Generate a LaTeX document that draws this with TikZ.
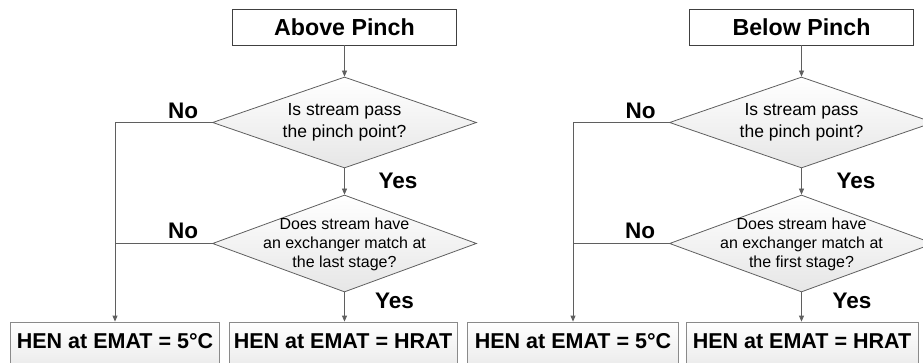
\documentclass[tikz,border=0pt]{standalone}
\usepackage{fontspec}
\setmainfont{Liberation Sans}
\usetikzlibrary{shapes.geometric,arrows.meta}
\definecolor{linegray}{HTML}{5F5F5F}
\definecolor{boxgray}{HTML}{404040}
\definecolor{botgray}{HTML}{8A8A8A}
\definecolor{diafill}{HTML}{E6E6E6}
\definecolor{botfill}{HTML}{E4E4E4}
\begin{document}
\begin{tikzpicture}[x=1pt,y=-1pt,
  conn/.style={draw=linegray, line width=0.8pt},
  arr/.style={conn, -{Triangle[length=6pt,width=5pt]}},
  topbox/.style={draw=boxgray, line width=0.9pt, fill=white, minimum width=224pt, minimum height=36pt, inner sep=0pt},
  titletext/.style={font=\fontsize{23.2}{27}\selectfont\bfseries, inner sep=0pt},
  dia/.style={diamond, draw=linegray, line width=0.8pt, top color=white, bottom color=diafill, inner sep=0pt, minimum width=264pt},
  diatextA/.style={font=\fontsize{17.5}{22}\selectfont, align=center, inner sep=0pt},
  diatextB/.style={font=\fontsize{16}{19}\selectfont, align=center, inner sep=0pt},
  botbox/.style={draw=botgray, line width=0.8pt, top color=white, bottom color=botfill, minimum height=60pt, inner sep=0pt},
  bottext/.style={font=\fontsize{21.5}{26}\selectfont\bfseries, inner sep=0pt},
  lbl/.style={font=\fontsize{22.5}{26}\selectfont\bfseries, inner sep=0pt}
]
\useasboundingbox (0,0) rectangle (923,363);
\clip (0,0) rectangle (923,363);

% ---------- left half ----------
\node[topbox] (t1) at (344.5,27) {};
\node[titletext] (t1t) at (t1.center) {Above Pinch};
\node[dia, minimum height=91pt] (d1) at (344.5,122.5) {};
\node[diatextA] (d1t) at (344.5,122) {Is stream pass\\the pinch point?};
\node[dia, minimum height=97pt] (d2) at (344.5,243.5) {};
\node[diatextB] (d2t) at (344.5,244) {Does stream have\\an exchanger match at\\the last stage?};
\node[botbox, minimum width=209pt] (b1) at (115,352) {};
\node[bottext] (b1t) at (115,341) {HEN at EMAT = 5\textdegree C};
\node[botbox, minimum width=228pt] (b2) at (343,352) {};
\node[bottext] (b2t) at (343,341) {HEN at EMAT = HRAT};

\draw[arr] (t1.south) -- (d1.north);
\draw[arr] (d1.south) -- (d2.north);
\draw[arr] (d2.south) -- (d2.south |- b2.north);
\draw[arr] (d1.west) -| (b1.north);
\draw[conn] (d2.west) -- (d2.west -| b1.north);

\node[lbl] (n1) at (183,111) {No};
\node[lbl] (n2) at (183,231) {No};
\node[lbl] (y1) at (398,181) {Yes};
\node[lbl] (y2) at (394.5,301) {Yes};

% ---------- right half ----------
\node[topbox] (t2) at (801.5,27) {};
\node[titletext] (t2t) at (t2.center) {Below Pinch};
\node[dia, minimum height=91pt] (d3) at (801.5,122.5) {};
\node[diatextA] (d3t) at (801.5,122) {Is stream pass\\the pinch point?};
\node[dia, minimum height=97pt] (d4) at (801.5,243.5) {};
\node[diatextB] (d4t) at (801.5,244) {Does stream have\\an exchanger match at\\the first stage?};
\node[botbox, minimum width=211pt] (b3) at (573,352) {};
\node[bottext] (b3t) at (573,341) {HEN at EMAT = 5\textdegree C};
\node[botbox, minimum width=232pt] (b4) at (802,352) {};
\node[bottext] (b4t) at (802,341) {HEN at EMAT = HRAT};

\draw[arr] (t2.south) -- (d3.north);
\draw[arr] (d3.south) -- (d4.north);
\draw[arr] (d4.south) -- (d4.south |- b4.north);
\draw[arr] (d3.west) -| (b3.north);
\draw[conn] (d4.west) -- (d4.west -| b3.north);

\node[lbl] (n3) at (640.5,111) {No};
\node[lbl] (n4) at (640,231) {No};
\node[lbl] (y3) at (856,181) {Yes};
\node[lbl] (y4) at (852,301) {Yes};
\end{tikzpicture}
\end{document}
